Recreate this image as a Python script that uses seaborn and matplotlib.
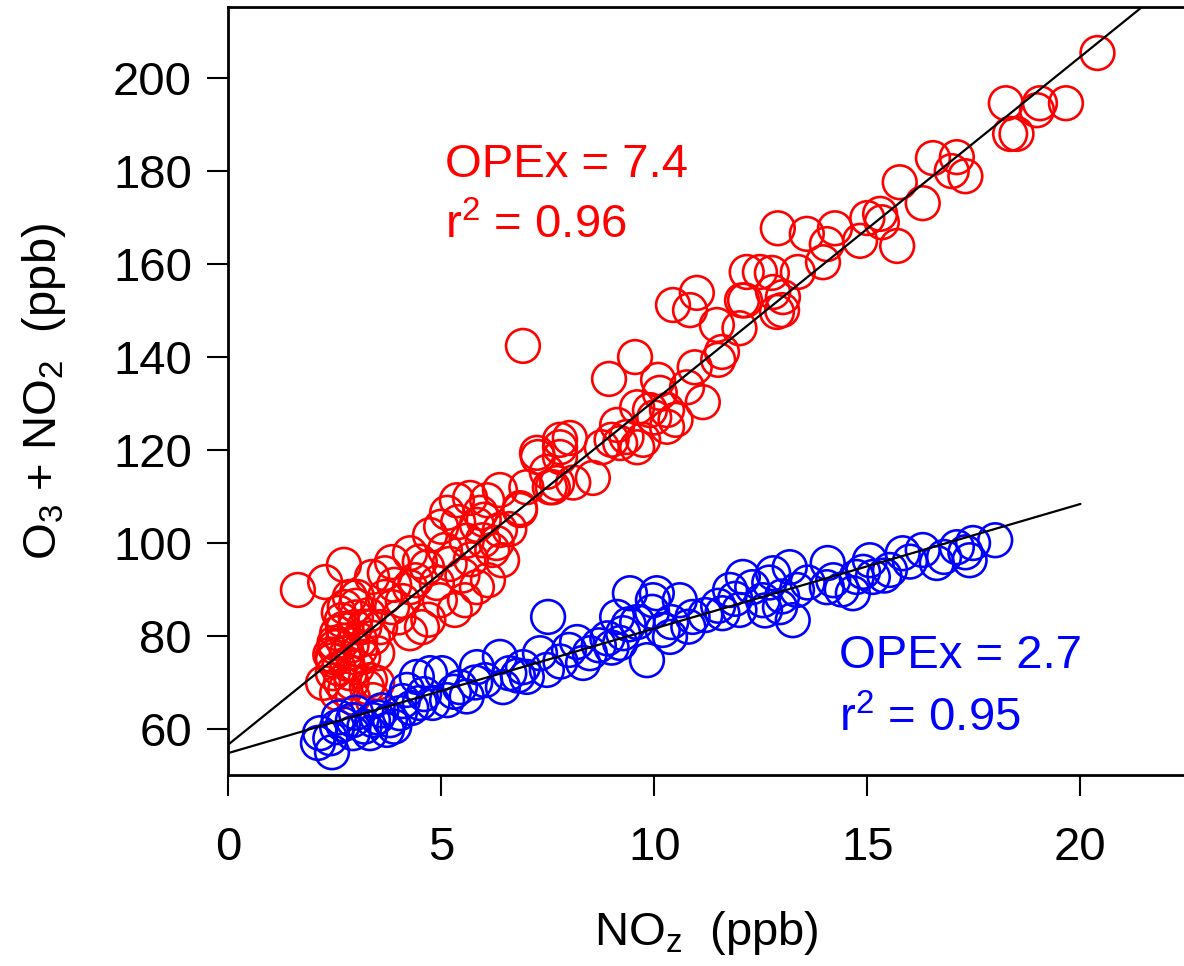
import numpy as np
import pandas as pd
import matplotlib
matplotlib.use("Agg")
import matplotlib.pyplot as plt
import seaborn as sns

# ---- data ----
red_x = [20.4, 18.25, 19.05, 19.66, 18.98, 18.5, 18.35, 17.1, 16.54, 16.98, 17.3, 15.76, 16.3,
         15.0, 15.3, 15.34, 14.83, 15.7, 14.05, 13.96, 14.24, 13.58, 12.9, 12.17, 12.48, 12.76,
         13.37, 13.02, 13.0, 12.79, 12.0, 12.06,
         6.92, 9.55, 8.94, 10.44, 11.0, 10.84, 11.47, 12.13, 12.88, 11.59, 11.5, 10.95, 10.09,
         10.77, 11.14, 10.13, 10.3, 9.9, 9.6, 9.6, 9.74, 10.3, 9.13, 9.0, 9.35, 8.02, 7.79, 7.27,
         7.79, 8.77, 8.56, 7.72, 8.1, 7.55, 7.0, 6.38, 6.85, 6.08, 5.92, 10.0, 10.5, 9.2,
         1.64, 2.28, 2.72, 2.86, 3.38, 3.85, 3.68, 4.27, 4.67, 4.74, 5.09, 5.14, 5.37, 5.68, 5.84,
         6.85, 6.38, 7.48, 7.62, 7.25, 7.79, 5.98, 6.43, 6.1, 5.84, 5.56, 5.32, 4.97, 4.55, 4.27,
         4.9, 4.27, 3.85, 3.68, 3.57, 3.4, 3.5, 3.03, 2.74, 2.67, 2.56, 2.51, 2.46, 2.46, 2.23,
         2.56, 2.93, 3.4, 3.26, 3.03, 3.1, 2.98, 2.79, 2.86, 3.17, 3.33, 3.5, 2.6, 2.7, 2.9, 2.4,
         2.65, 3.0, 3.2, 5.5, 5.2, 6.2, 5.0, 4.5, 4.0, 4.7, 5.6, 6.0, 6.6, 5.4,
         2.5, 2.8, 3.1, 2.6, 2.9, 2.7, 3.0, 2.45, 2.75, 3.3, 4.4, 4.1, 3.9, 5.7, 6.3]
red_y = [205.4, 194.6, 194.6, 194.6, 193.1, 188.0, 188.0, 183.0, 182.8, 180.0, 178.9, 177.6, 173.1,
         169.9, 170.8, 169.0, 165.0, 163.9, 164.3, 160.4, 167.7, 166.5, 167.7, 158.3, 158.3, 158.1,
         158.3, 152.9, 150.1, 154.0, 146.2, 152.2,
         142.4, 140.0, 135.3, 151.2, 153.8, 150.1, 146.9, 152.2, 149.7, 141.1, 139.4, 137.8, 135.1,
         133.5, 130.3, 132.3, 128.6, 128.6, 129.2, 120.6, 122.2, 125.0, 125.4, 122.2, 122.8, 122.6,
         122.2, 118.5, 118.5, 120.6, 114.0, 112.9, 113.0, 112.0, 112.0, 111.4, 107.1, 109.2, 106.5,
         127.0, 126.5, 121.5,
         89.9, 91.6, 95.3, 88.4, 92.7, 95.9, 88.4, 97.8, 94.8, 101.7, 98.5, 106.5, 109.2, 109.7, 103.9,
         107.5, 102.8, 115.3, 112.0, 119.4, 120.6, 100.6, 96.3, 92.0, 90.5, 87.7, 85.6, 87.7, 81.9,
         80.6, 91.4, 90.5, 86.2, 93.5, 81.9, 79.6, 76.3, 88.4, 86.2, 83.4, 80.6, 77.6, 74.8, 72.0,
         69.9, 67.7, 66.7, 66.2, 69.0, 73.3, 79.1, 81.9, 76.3, 72.0, 75.5, 70.5, 69.9, 85.0, 79.0,
         78.0, 76.0, 70.0, 84.0, 82.0, 93.0, 95.5, 98.5, 103.5, 96.0, 84.0, 83.5, 100.5, 105.0,
         103.0, 104.5,
         78.5, 74.0, 77.0, 73.0, 70.0, 81.5, 86.5, 75.5, 68.5, 84.5, 92.0, 87.5, 91.0, 96.5, 100.0]

blue_x = [2.11, 2.44, 2.16, 2.56, 2.93, 2.93, 3.33, 3.73, 3.4, 3.8, 4.03, 4.2, 4.43, 4.74, 5.02,
          4.5, 4.8, 5.14, 5.44, 5.84, 6.03, 6.38, 6.45, 7.01, 6.92, 7.51, 7.32, 7.48, 8.19, 8.33,
          8.49, 9.13, 9.43, 9.27, 9.2, 9.83, 9.95, 10.06, 10.2, 9.97, 10.6, 10.9, 10.37, 11.6,
          11.78, 12.08, 12.0, 12.55, 12.79, 13.18, 13.25, 12.95, 13.35, 14.07, 14.05, 14.66,
          14.75, 15.06, 15.13, 15.53, 15.83, 16.3, 16.63, 17.1, 17.48, 17.4, 18.0,
          2.6, 3.0, 3.6, 4.1, 4.6, 5.3, 5.8, 6.6, 7.8, 8.9, 9.0, 9.6, 10.4, 10.8, 11.2, 11.9,
          12.3, 12.6, 13.0, 13.6, 14.2, 14.4, 15.4, 16.0, 16.8, 17.3, 3.2, 3.9, 2.4, 8.0, 8.7,
          9.4, 11.5, 12.7, 14.9, 2.7, 3.5, 4.3, 5.6, 6.8]
blue_y = [57.0, 55.0, 59.1, 60.4, 61.9, 59.1, 59.1, 59.8, 61.9, 61.9, 63.4, 68.4, 71.2, 72.0, 72.0,
          65.6, 65.6, 66.2, 69.0, 73.3, 70.5, 75.5, 69.0, 71.2, 73.3, 84.1, 76.3, 72.7, 78.7, 74.2,
          76.3, 84.1, 89.2, 80.6, 78.5, 74.8, 85.2, 89.2, 81.3, 87.7, 87.7, 84.1, 79.8, 84.9,
          89.9, 92.7, 85.6, 87.7, 93.5, 94.8, 83.4, 86.2, 89.9, 95.7, 90.5, 89.2,
          92.7, 96.3, 92.7, 94.2, 97.8, 98.5, 95.7, 99.1, 100.0, 96.3, 100.6,
          62.5, 63.5, 64.0, 66.0, 67.5, 68.0, 70.0, 72.0, 74.5, 79.5, 77.5, 83.0, 83.0, 82.0,
          84.5, 88.0, 90.5, 85.5, 88.5, 91.5, 92.0, 90.0, 93.0, 96.0, 97.0, 98.0, 60.5, 60.5,
          58.0, 77.0, 78.0, 82.5, 86.5, 91.5, 93.8, 61.0, 62.5, 64.5, 67.0, 71.5]

red_slope, red_intercept = 7.4, 56.6
blue_slope, blue_intercept = 2.68, 54.8
red_fit_x = [0.0, 22.4]
blue_fit_x = [0.0, 20.0]

x_ticks = [0, 5, 10, 15, 20]
y_ticks = [60, 80, 100, 120, 140, 160, 180, 200]

# ---- styling ----
sns.set_theme(style="ticks")
plt.rcParams['font.family'] = ['Liberation Sans', 'DejaVu Sans']
plt.rcParams['mathtext.fontset'] = 'custom'
plt.rcParams['mathtext.rm'] = 'Liberation Sans'
plt.rcParams['mathtext.it'] = 'Liberation Sans:italic'

FS = 34
fig = plt.figure(figsize=(11.84, 9.66), dpi=100)
ax = fig.add_axes([228/1184, 1 - 775/966, 1 - 228/1184, (775 - 7)/966])

red_df = pd.DataFrame({"x": red_x, "y": red_y})
blue_df = pd.DataFrame({"x": blue_x, "y": blue_y})

sns.scatterplot(data=red_df, x="x", y="y", ax=ax, s=590, marker="o",
                facecolors="none", edgecolor="#ff0000", linewidth=1.9, zorder=3)
sns.scatterplot(data=blue_df, x="x", y="y", ax=ax, s=590, marker="o",
                facecolors="none", edgecolor="#0000ff", linewidth=1.9, zorder=3)

rfx = np.array(red_fit_x)
bfx = np.array(blue_fit_x)
ax.plot(rfx, red_intercept + red_slope * rfx, color="black", lw=1.6, zorder=4)
ax.plot(bfx, blue_intercept + blue_slope * bfx, color="black", lw=1.6, zorder=4)

ax.set_xlim(0, 22.43)
ax.set_ylim(50.1, 215.3)
ax.set_xticks(x_ticks)
ax.set_yticks(y_ticks)
ax.set_xticklabels([str(t) for t in x_ticks])
ax.set_yticklabels([str(t) for t in y_ticks])
ax.tick_params(axis="both", direction="out", length=15, width=1.5, color="black",
               labelsize=FS, labelcolor="black")
ax.tick_params(axis="x", pad=22)
ax.tick_params(axis="y", pad=11)

for side in ["left", "bottom", "top"]:
    ax.spines[side].set_linewidth(2)
    ax.spines[side].set_color("black")
ax.spines["right"].set_visible(False)

ax.set_xlabel(r"NO$_\mathregular{z}$  (ppb)", fontsize=FS, color="black", labelpad=28)
ax.set_ylabel(r"O$_\mathregular{3}$ + NO$_\mathregular{2}$  (ppb)", fontsize=FS, color="black", labelpad=32)

ax.text(5.09, 178.7, "OPEx = 7.4", color="#ff0000", fontsize=FS, ha="left", va="baseline")
ax.text(5.09, 165.6, r"r$^\mathregular{2}$ = 0.96", color="#ff0000", fontsize=FS, ha="left", va="baseline")
ax.text(14.33, 73.1, "OPEx = 2.7", color="#0000ff", fontsize=FS, ha="left", va="baseline")
ax.text(14.33, 59.4, r"r$^\mathregular{2}$ = 0.95", color="#0000ff", fontsize=FS, ha="left", va="baseline")

fig.savefig("out.png", dpi=100, facecolor="white")
